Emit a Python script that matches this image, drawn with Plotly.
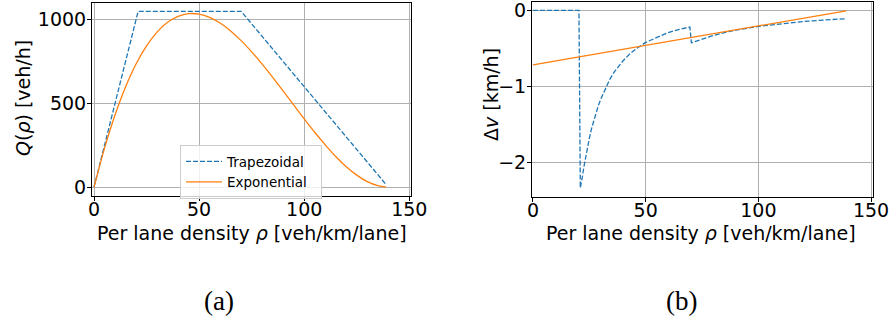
import plotly.graph_objects as go

# ---- data ----
rho_trap = [0, 21, 70, 139]
q_trap = [0, 1050, 1050, 15]

rho_exp = [0, 5, 10, 15, 20, 25, 30, 35, 40, 45, 50, 55, 60, 65, 70, 75, 80,
           85, 90, 95, 100, 105, 110, 115, 120, 125, 130, 135, 139]
q_exp = [0, 232, 431, 598, 735, 843, 926, 984, 1020, 1036, 1033, 1014, 980,
         933, 875, 808, 735, 656, 574, 491, 408, 328, 253, 183, 122, 72, 33, 9, 0.4]

rho_dv_trap = [0, 20.4, 21, 21.5, 22, 22.5, 23, 23.5, 24, 25, 26, 27, 28, 29, 30,
               32, 34, 36, 38, 40, 43, 46, 50, 55, 60, 65, 69.6,
               70.3, 75, 80, 85, 90, 100, 110, 120, 130, 139]
dv_trap = [0, 0, -2.33, -2.27, -2.17, -2.07, -1.98, -1.90, -1.82, -1.68, -1.55,
           -1.44, -1.34, -1.25, -1.17, -1.03, -0.91, -0.81, -0.73, -0.66, -0.57,
           -0.50, -0.42, -0.35, -0.29, -0.25, -0.217,
           -0.425, -0.373, -0.328, -0.291, -0.259, -0.21, -0.174, -0.146, -0.124,
           -0.109]

rho_dv_exp = [0, 35, 70, 105, 139]
dv_exp = [-0.714, -0.536, -0.357, -0.179, -0.005]

x_ticks = [0, 50, 100, 150]
q_ticks = [0, 500, 1000]
dv_ticks = [-2, -1, 0]

BLUE = "#1f77b4"
ORANGE = "#ff7f0e"
FONT = "DejaVu Sans"
W, H = 891, 322
PAD = "\u00a0\u00a0"

fig = go.Figure()
fig.add_trace(go.Scatter(x=rho_trap, y=q_trap, mode="lines", name="Trapezoidal" + PAD,
                         line=dict(color=BLUE, width=1.3, dash="5px,2px"),
                         xaxis="x", yaxis="y"))
fig.add_trace(go.Scatter(x=rho_exp, y=q_exp, mode="lines", name="Exponential" + PAD,
                         line=dict(color=ORANGE, width=1.3, shape="spline"),
                         xaxis="x", yaxis="y"))
fig.add_trace(go.Scatter(x=rho_dv_trap, y=dv_trap, mode="lines", showlegend=False,
                         line=dict(color=BLUE, width=1.3, dash="5px,2px"),
                         xaxis="x2", yaxis="y2"))
fig.add_trace(go.Scatter(x=rho_dv_exp, y=dv_exp, mode="lines", showlegend=False,
                         line=dict(color=ORANGE, width=1.3),
                         xaxis="x2", yaxis="y2"))

axis_common = dict(showline=True, mirror=True, linecolor="black", linewidth=1,
                   showgrid=True, gridcolor="#b0b0b0", gridwidth=1, zeroline=False,
                   ticks="outside", ticklen=4, tickcolor="black", automargin=False,
                   ticklabeloverflow="allow",
                   tickfont=dict(size=19, color="black", family=FONT))

xtitle = "Per lane density <i>ρ</i> [veh/km/lane]"


def title_ann(text, xpx, ypx, angle=0):
    return dict(text=text, x=xpx / W, y=(H - ypx) / H, xref="paper", yref="paper",
                showarrow=False, xanchor="center", yanchor="middle", textangle=angle,
                font=dict(family=FONT, size=19, color="black"))


fig.update_layout(
    width=W, height=H,
    margin=dict(l=0, r=0, t=0, b=0),
    paper_bgcolor="white", plot_bgcolor="white",
    font=dict(family=FONT, color="black"),
    xaxis=dict(domain=[92 / W, 411 / W], range=[-0.95, 150.8],
               tickvals=x_ticks, anchor="y", ticklabelstandoff=-8, **axis_common),
    yaxis=dict(domain=[126 / H, 319.5 / H], range=[-52.5, 1102.5],
               tickvals=q_ticks, anchor="x", ticklabelstandoff=-3, **axis_common),
    xaxis2=dict(domain=[532 / W, 872.7 / W], range=[-0.44, 150.75],
                tickvals=x_ticks, anchor="y2", ticklabelstandoff=-8, **axis_common),
    yaxis2=dict(domain=[125 / H, 320.5 / H], range=[-2.45, 0.117],
                tickvals=dv_ticks, anchor="x2", ticklabelstandoff=-3, **axis_common),
    legend=dict(x=180 / W, y=(H - 145) / H, xanchor="left", yanchor="top",
                bgcolor="rgba(255,255,255,0.8)", bordercolor="#cccccc", borderwidth=1,
                font=dict(size=13.5, family=FONT, color="black"), itemwidth=36,
                tracegroupgap=0),
    annotations=[
        title_ann(xtitle, 251.5, 233),
        title_ann(xtitle, 701, 233),
        title_ann("<i>Q</i>(<i>ρ</i>) [veh/h]", 23, 98, -90),
        title_ann("Δ<i>v</i> [km/h]", 491, 95, -90),
        dict(text="(a)", x=219 / W, y=(H - 301) / H, xref="paper", yref="paper",
             showarrow=False, xanchor="center", yanchor="middle",
             font=dict(family="Liberation Serif", size=27, color="black")),
        dict(text="(b)", x=681 / W, y=(H - 301) / H, xref="paper", yref="paper",
             showarrow=False, xanchor="center", yanchor="middle",
             font=dict(family="Liberation Serif", size=27, color="black")),
    ],
)

fig.write_html("out.html", config={"displayModeBar": False},
               post_script="document.body.style.margin='0';")
